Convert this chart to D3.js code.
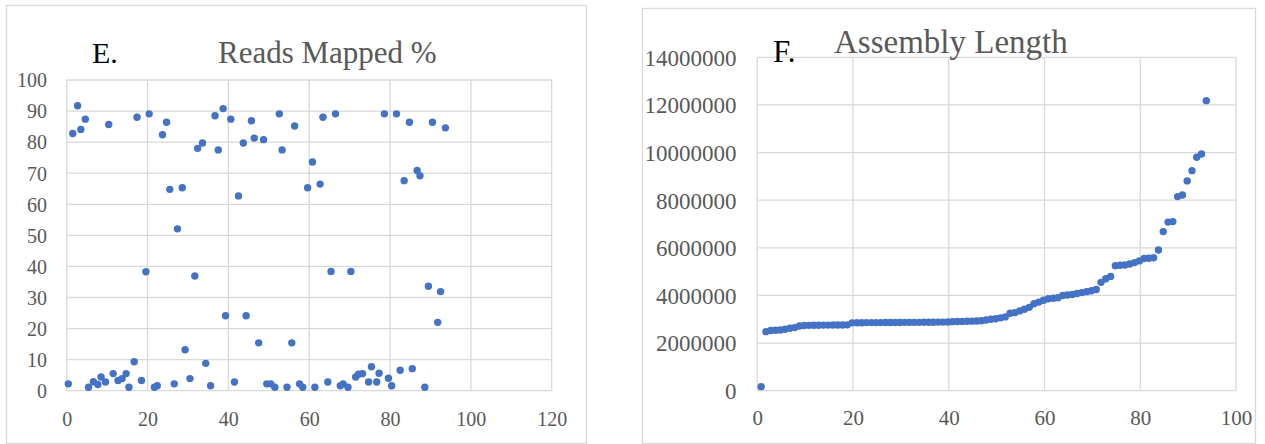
<!DOCTYPE html>
<html>
<head>
<meta charset="utf-8">
<script src="https://cdn.jsdelivr.net/npm/d3@7"></script>
<style>
  body { margin: 0; background: #fff; }
  svg { display: block; }
  svg text { font-family: "Liberation Serif", "Times New Roman", serif; }
</style>
</head>
<body>
<svg id="chart" width="1265" height="444"></svg>
<script>
// E. Reads Mapped %  (x, y)
var mappedX = [0.4, 1.5, 2.7, 3.5, 4.6, 5.4, 6.6, 7.7, 8.5, 9.6, 10.4, 11.5, 12.7, 13.7, 14.7, 15.4, 16.7, 17.4, 18.5, 19.6,
  20.4, 21.7, 22.4, 23.7, 24.7, 25.5, 26.6, 27.4, 28.6, 29.3, 30.5, 31.7, 32.4, 33.6, 34.4, 35.6, 36.7, 37.5, 38.7, 39.3,
  40.6, 41.5, 42.5, 43.7, 44.4, 45.7, 46.4, 47.5, 48.7, 49.5, 50.5, 51.5, 52.6, 53.3, 54.5, 55.7, 56.4, 57.6, 58.4, 59.6,
  60.8, 61.4, 62.7, 63.4, 64.6, 65.4, 66.5, 67.7, 68.4, 69.6, 70.3, 71.5, 72.2, 73.2, 74.7, 75.4, 76.7, 77.3, 78.6, 79.6,
  80.4, 81.6, 82.5, 83.5, 84.8, 85.5, 86.7, 87.4, 88.6, 89.5, 90.5, 91.8, 92.5, 93.7];
var mappedPct = [2.2, 82.8, 91.7, 84.1, 87.4, 1.1, 2.9, 2.0, 4.4, 2.8, 85.7, 5.5, 3.3, 3.9, 5.5, 1.1, 9.3, 88.0, 3.3, 38.3,
  89.1, 1.1, 1.6, 82.4, 86.4, 64.8, 2.2, 52.1, 65.3, 13.2, 3.9, 36.9, 78.0, 79.7, 8.8, 1.6, 88.5, 77.5, 90.8, 24.1,
  87.4, 2.8, 62.7, 79.7, 24.1, 86.9, 81.3, 15.4, 80.8, 2.2, 2.2, 1.1, 89.1, 77.5, 1.1, 15.4, 85.2, 2.2, 1.1, 65.3,
  73.6, 1.1, 66.5, 88.0, 2.8, 38.4, 89.1, 1.6, 2.2, 1.1, 38.4, 4.4, 5.3, 5.5, 2.8, 7.7, 2.8, 5.6, 89.1, 4.0,
  1.6, 89.1, 6.6, 67.6, 86.4, 7.1, 70.9, 69.2, 1.1, 33.6, 86.4, 22.0, 31.9, 84.6];

// F. Assembly Length, sorted, one value per assembly
var assemblyLen = [170000, 2480000, 2530000, 2540000, 2550000, 2580000, 2620000, 2650000, 2720000, 2740000,
  2745000, 2750000, 2750000, 2755000, 2755000, 2760000, 2760000, 2760000, 2765000, 2850000,
  2855000, 2855000, 2860000, 2860000, 2860000, 2860000, 2865000, 2865000, 2865000, 2865000,
  2870000, 2870000, 2870000, 2870000, 2875000, 2875000, 2875000, 2880000, 2880000, 2885000,
  2900000, 2905000, 2910000, 2915000, 2920000, 2925000, 2935000, 2970000, 3000000, 3020000,
  3060000, 3100000, 3250000, 3280000, 3350000, 3420000, 3500000, 3650000, 3720000, 3800000,
  3860000, 3880000, 3900000, 4000000, 4020000, 4040000, 4080000, 4120000, 4160000, 4200000,
  4250000, 4550000, 4700000, 4800000, 5250000, 5270000, 5280000, 5320000, 5380000, 5450000,
  5550000, 5560000, 5580000, 5910000, 6680000, 7080000, 7100000, 8150000, 8220000, 8810000,
  9240000, 9800000, 9940000, 12180000];

var eXTicks = [0, 20, 40, 60, 80, 100, 120];
var eYTicks = [0, 10, 20, 30, 40, 50, 60, 70, 80, 90, 100];
var fXTicks = [0, 20, 40, 60, 80, 100];
var fYTicks = [0, 2000000, 4000000, 6000000, 8000000, 10000000, 12000000, 14000000];

var gridColor = "#d9d9d9",
    textGray = "#595959",
    dotBlue = "#4472c4",
    serif = "'Liberation Serif', 'Times New Roman', serif";

var svg = d3.select("#chart");

function drawPanel(opt) {
  var g = svg.append("g");

  // outer chart frame
  g.append("rect")
    .attr("x", opt.frame[0] + 0.5).attr("y", opt.frame[1] + 0.5)
    .attr("width", opt.frame[2] - opt.frame[0]).attr("height", opt.frame[3] - opt.frame[1])
    .attr("fill", "#fff").attr("stroke", gridColor).attr("stroke-width", 1.3);

  var x = opt.x, y = opt.y;

  // grid
  g.selectAll(".hg").data(opt.yTicks).enter().append("line")
    .attr("x1", x.range()[0]).attr("x2", x.range()[1])
    .attr("y1", function (d) { return y(d); }).attr("y2", function (d) { return y(d); })
    .attr("stroke", gridColor).attr("stroke-width", 1.3);
  g.selectAll(".vg").data(opt.xTicks).enter().append("line")
    .attr("y1", y.range()[0]).attr("y2", y.range()[1])
    .attr("x1", function (d) { return x(d); }).attr("x2", function (d) { return x(d); })
    .attr("stroke", gridColor).attr("stroke-width", 1.3);

  // tick labels through d3 axes
  var ax = g.append("g")
    .attr("transform", "translate(0," + opt.xLabelY + ")")
    .call(d3.axisBottom(x).tickValues(opt.xTicks).tickSize(0).tickPadding(0).tickFormat(d3.format("d")))
    .attr("font-family", serif);
  ax.select(".domain").remove();
  ax.selectAll("text").attr("fill", textGray).attr("dy", 0)
    .attr("font-family", serif).style("font-size", opt.xFont + "px");

  var ay = g.append("g")
    .attr("transform", "translate(" + opt.yLabelX + ",0)")
    .call(d3.axisLeft(y).tickValues(opt.yTicks).tickSize(0).tickPadding(0).tickFormat(d3.format("d")))
    .attr("font-family", serif);
  ay.select(".domain").remove();
  ay.selectAll("text").attr("fill", textGray).attr("dy", "0.34em")
    .attr("font-family", serif).style("font-size", opt.yFont + "px");

  // points
  g.selectAll(".dot").data(opt.points).enter().append("circle")
    .attr("cx", function (d) { return x(d[0]); })
    .attr("cy", function (d) { return y(d[1]); })
    .attr("r", 3.7)
    .attr("fill", dotBlue);

  // titles
  g.append("text").attr("x", opt.title.x).attr("y", opt.title.y)
    .attr("fill", textGray).style("font-size", opt.title.size + "px")
    .text(opt.title.text);
  g.append("text").attr("x", opt.letter.x).attr("y", opt.letter.y)
    .attr("fill", "#000").style("font-size", opt.letter.size + "px")
    .text(opt.letter.text);
}

// E panel
drawPanel({
  frame: [6, 5, 586, 443],
  x: d3.scaleLinear().domain([0, 120]).range([66.7, 551.7]),
  y: d3.scaleLinear().domain([0, 100]).range([390.7, 80]),
  xTicks: eXTicks, yTicks: eYTicks,
  xLabelY: 426, yLabelX: 47, xFont: 20, yFont: 20,
  points: mappedX.map(function (v, i) { return [v, mappedPct[i]]; }),
  title: { text: "Reads Mapped %", x: 218, y: 63, size: 31 },
  letter: { text: "E.", x: 92, y: 63, size: 30 }
});

// F panel
drawPanel({
  frame: [642, 8, 1255, 443],
  x: d3.scaleLinear().domain([0, 100]).range([757.3, 1236]),
  y: d3.scaleLinear().domain([0, 14000000]).range([390.7, 57.3]),
  xTicks: fXTicks, yTicks: fYTicks,
  xLabelY: 425, yLabelX: 736.5, xFont: 21, yFont: 23,
  points: assemblyLen.map(function (v, i) { return [i + 0.8, v]; }),
  title: { text: "Assembly Length", x: 834, y: 53, size: 33 },
  letter: { text: "F.", x: 773, y: 62, size: 31 }
});
</script>
</body>
</html>
